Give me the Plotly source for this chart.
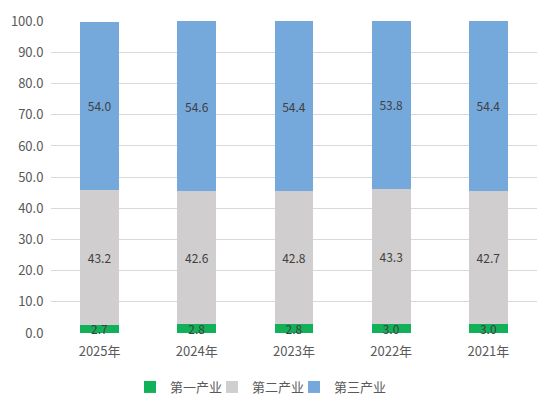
import plotly.graph_objects as go

years = ["2025年", "2024年", "2023年", "2022年", "2021年"]
primary = [2.7, 2.8, 2.8, 3.0, 3.0]
secondary = [43.2, 42.6, 42.8, 43.3, 42.7]
tertiary = [54.0, 54.6, 54.4, 53.8, 54.4]

font = "Noto Sans CJK SC, Microsoft YaHei, sans-serif"

# the page body has an 8px margin, so the figure is a bit smaller
W, H = 541, 397

series = [
    ("第一产业", primary, "#12B058", "legend", 164),
    ("第二产业", secondary, "#D0CECE", "legend2", 246),
    ("第三产业", tertiary, "#75A9DC", "legend3", 328),
]

fig = go.Figure()
legends = {}
for name, vals, color, leg, text_x in series:
    fig.add_trace(go.Bar(
        x=years,
        y=vals,
        name=name,
        legend=leg,
        showlegend=True,
        marker=dict(color=color, line=dict(width=0)),
        text=[f"{v:.1f}" for v in vals],
        textposition="inside",
        insidetextanchor="middle",
        textangle=0,
        textfont=dict(color="#404040", size=12, family=font),
        constraintext="none",
        cliponaxis=False,
    ))
    legends[leg] = dict(
        orientation="h",
        xref="container",
        yref="container",
        x=(text_x - 42) / W,
        xanchor="left",
        y=1 - 379 / H,
        yanchor="middle",
        font=dict(size=13, color="#595959"),
        itemwidth=30,
        bgcolor="rgba(0,0,0,0)",
    )

fig.update_layout(
    barmode="stack",
    bargap=0.6,
    width=W,
    height=H,
    showlegend=True,
    margin=dict(l=43, r=12, t=13, b=72),
    plot_bgcolor="white",
    paper_bgcolor="white",
    font=dict(family=font, size=13, color="#595959"),
    uniformtext=dict(minsize=12, mode="show"),
    xaxis=dict(showline=False, ticks="outside", ticklen=6, tickcolor="white",
               tickfont=dict(size=13), automargin=False),
    yaxis=dict(
        range=[0, 100.1],
        tickvals=[0, 10, 20, 30, 40, 50, 60, 70, 80, 90, 100],
        tickformat=".1f",
        gridcolor="#D9D9D9",
        zeroline=False,
        showline=False,
        ticks="outside",
        ticklen=4,
        tickcolor="white",
        tickfont=dict(size=13),
        automargin=False,
    ),
    **legends,
)

fig.write_html("out.html")
